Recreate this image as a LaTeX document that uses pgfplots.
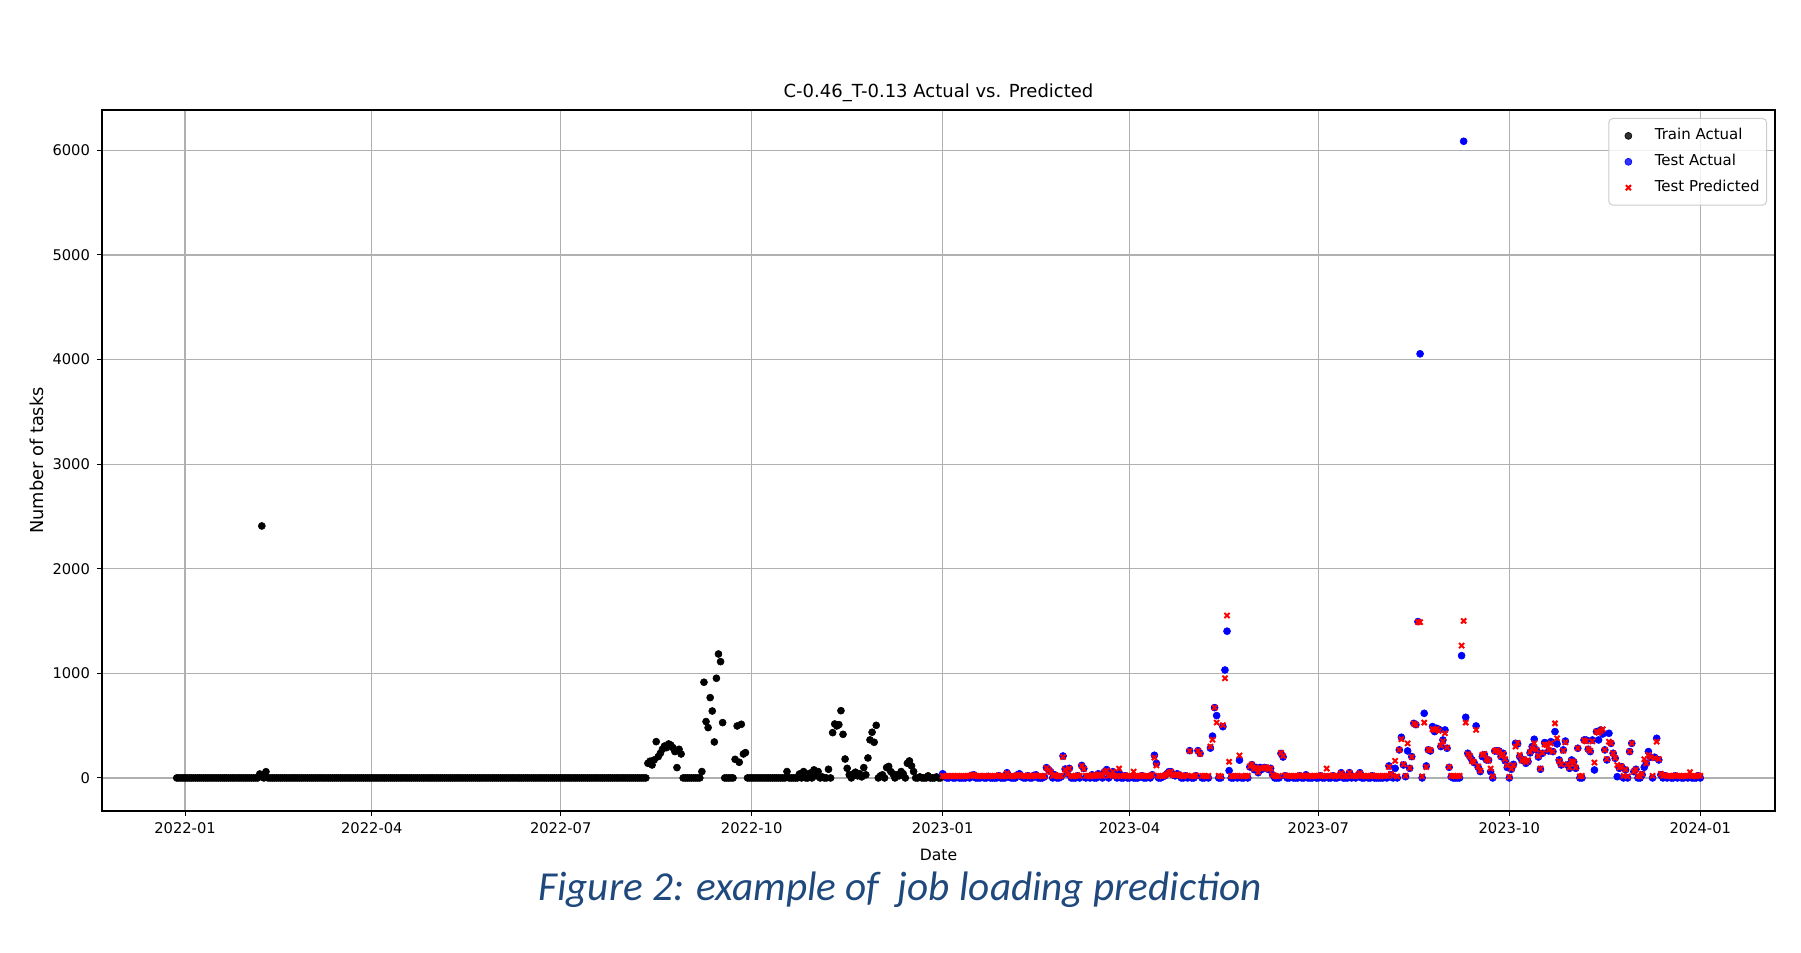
\documentclass[border=0pt]{standalone}
\usepackage{fontspec}
\setmainfont{DejaVu Sans}
\newfontfamily\capfont{Carlito}
\usepackage{pgfplots}
\pgfplotsset{compat=1.18}
\usepackage{pgfplotstable}
\definecolor{capblue}{RGB}{31,73,125}
\definecolor{gridgray}{HTML}{B0B0B0}

\pgfplotstableread[row sep=\\]{
x y\\
-4 0\\ -3 0\\ -2 0\\ -1 0\\ 0 0\\ 1 0\\ 2 0\\ 3 0\\ 4 0\\ 5 0\\
6 0\\ 7 0\\ 8 0\\ 9 0\\ 10 0\\ 11 0\\ 12 0\\ 13 0\\ 14 0\\ 15 0\\
16 0\\ 17 0\\ 18 0\\ 19 0\\ 20 0\\ 21 0\\ 22 0\\ 23 0\\ 24 0\\ 25 0\\
26 0\\ 27 0\\ 28 0\\ 29 0\\ 30 0\\ 31 0\\ 32 0\\ 33 0\\ 34 0\\ 35 0\\
36 38\\ 37 2409\\ 38 0\\ 39 60\\
40 0\\ 41 0\\ 42 0\\ 43 0\\ 44 0\\ 45 0\\ 46 0\\ 47 0\\ 48 0\\ 49 0\\
50 0\\ 51 0\\ 52 0\\ 53 0\\ 54 0\\ 55 0\\ 56 0\\ 57 0\\ 58 0\\ 59 0\\
60 0\\ 61 0\\ 62 0\\ 63 0\\ 64 0\\ 65 0\\ 66 0\\ 67 0\\ 68 0\\ 69 0\\
70 0\\ 71 0\\ 72 0\\ 73 0\\ 74 0\\ 75 0\\ 76 0\\ 77 0\\ 78 0\\ 79 0\\
80 0\\ 81 0\\ 82 0\\ 83 0\\ 84 0\\ 85 0\\ 86 0\\ 87 0\\ 88 0\\ 89 0\\
90 0\\ 91 0\\ 92 0\\ 93 0\\ 94 0\\ 95 0\\ 96 0\\ 97 0\\ 98 0\\ 99 0\\
100 0\\ 101 0\\ 102 0\\ 103 0\\ 104 0\\ 105 0\\ 106 0\\ 107 0\\ 108 0\\ 109 0\\
110 0\\ 111 0\\ 112 0\\ 113 0\\ 114 0\\ 115 0\\ 116 0\\ 117 0\\ 118 0\\ 119 0\\
120 0\\ 121 0\\ 122 0\\ 123 0\\ 124 0\\ 125 0\\ 126 0\\ 127 0\\ 128 0\\ 129 0\\
130 0\\ 131 0\\ 132 0\\ 133 0\\ 134 0\\ 135 0\\ 136 0\\ 137 0\\ 138 0\\ 139 0\\
140 0\\ 141 0\\ 142 0\\ 143 0\\ 144 0\\ 145 0\\ 146 0\\ 147 0\\ 148 0\\ 149 0\\
150 0\\ 151 0\\ 152 0\\ 153 0\\ 154 0\\ 155 0\\ 156 0\\ 157 0\\ 158 0\\ 159 0\\
160 0\\ 161 0\\ 162 0\\ 163 0\\ 164 0\\ 165 0\\ 166 0\\ 167 0\\ 168 0\\ 169 0\\
170 0\\ 171 0\\ 172 0\\ 173 0\\ 174 0\\ 175 0\\ 176 0\\ 177 0\\ 178 0\\ 179 0\\
180 0\\ 181 0\\ 182 0\\ 183 0\\ 184 0\\ 185 0\\ 186 0\\ 187 0\\ 188 0\\ 189 0\\
190 0\\ 191 0\\ 192 0\\ 193 0\\ 194 0\\ 195 0\\ 196 0\\ 197 0\\ 198 0\\ 199 0\\
200 0\\ 201 0\\ 202 0\\ 203 0\\ 204 0\\ 205 0\\ 206 0\\ 207 0\\ 208 0\\ 209 0\\
210 0\\ 211 0\\ 212 0\\ 213 0\\ 214 0\\ 215 0\\ 216 0\\ 217 0\\ 218 0\\ 219 0\\
220 0\\ 221 0\\ 222 0\\ 223 140\\ 224 160\\ 225 124\\ 226 172\\ 227 347\\ 228 204\\ 229 236\\
230 274\\ 231 305\\ 232 290\\ 233 325\\ 234 315\\ 235 290\\ 236 252\\ 237 99\\ 238 274\\ 239 229\\
240 0\\ 241 0\\ 242 0\\ 243 0\\ 244 0\\ 245 0\\ 246 0\\ 247 0\\ 248 0\\ 249 61\\
250 915\\ 251 539\\ 252 481\\ 253 768\\ 254 640\\ 255 344\\ 256 953\\ 257 1185\\ 258 1112\\ 259 529\\
260 0\\ 261 0\\ 262 0\\ 263 0\\ 264 0\\ 265 178\\ 266 497\\ 267 150\\ 268 513\\ 269 229\\
270 242\\ 271 0\\ 272 0\\ 273 0\\ 274 0\\ 275 0\\ 276 0\\ 277 0\\ 278 0\\ 279 0\\
280 0\\ 281 0\\ 282 0\\ 283 0\\ 284 0\\ 285 0\\ 286 0\\ 287 0\\ 288 0\\ 289 0\\
290 61\\ 291 0\\ 292 0\\ 293 0\\ 294 0\\ 295 0\\ 296 38\\ 297 0\\ 298 61\\ 299 0\\
300 0\\ 301 45\\ 302 0\\ 303 77\\ 304 20\\ 305 61\\ 306 0\\ 307 10\\ 308 0\\ 309 0\\
310 83\\ 311 0\\ 312 433\\ 313 516\\ 314 497\\ 315 510\\ 316 643\\ 317 417\\ 318 181\\ 319 92\\
320 30\\ 321 0\\ 322 40\\ 323 55\\ 324 20\\ 325 40\\ 326 10\\ 327 99\\ 328 30\\ 329 191\\
330 364\\ 331 437\\ 332 341\\ 333 503\\ 334 0\\ 335 20\\ 336 30\\ 337 0\\ 338 99\\ 339 110\\
340 61\\ 341 40\\ 342 0\\ 343 30\\ 344 20\\ 345 61\\ 346 40\\ 347 0\\ 348 140\\ 349 163\\
350 115\\ 351 61\\ 352 0\\ 353 0\\ 354 10\\ 355 0\\ 356 0\\ 357 0\\ 358 20\\ 359 0\\
360 0\\ 361 0\\ 362 10\\ 363 0\\ 364 0\\
}\trainTable

\pgfplotstableread[row sep=\\]{
x a p\\
365 40 20\\ 366 20 15\\ 367 0 15\\ 368 0 20\\ 369 10 20\\ 370 0 15\\ 371 0 20\\ 372 5 20\\ 373 0 15\\ 374 0 20\\
375 0 20\\ 376 0 15\\ 377 10 20\\ 378 0 20\\ 379 25 30\\ 380 30 25\\ 381 0 20\\ 382 0 15\\ 383 0 20\\ 384 10 20\\
385 0 20\\ 386 0 15\\ 387 15 20\\ 388 0 20\\ 389 0 15\\ 390 0 20\\ 391 0 20\\ 392 20 25\\ 393 0 20\\ 394 0 15\\
395 0 20\\ 396 50 45\\ 397 10 20\\ 398 0 20\\ 399 0 15\\ 400 0 20\\ 401 30 25\\ 402 40 30\\ 403 10 20\\ 404 0 20\\
405 0 15\\ 406 20 25\\ 407 0 20\\ 408 0 15\\ 409 25 20\\ 410 30 25\\ 411 0 20\\ 412 0 20\\ 413 0 15\\ 414 10 20\\
415 99 95\\ 416 80 75\\ 417 60 55\\ 418 0 20\\ 419 30 30\\ 420 0 20\\ 421 0 15\\ 422 10 20\\ 423 210 200\\ 424 85 80\\
425 40 35\\ 426 92 90\\ 427 0 20\\ 428 0 15\\ 429 0 20\\ 430 20 25\\ 431 0 20\\ 432 120 115\\ 433 90 85\\ 434 0 20\\
435 10 20\\ 436 0 15\\ 437 30 30\\ 438 0 20\\ 439 0 20\\ 440 40 35\\ 441 20 25\\ 442 0 20\\ 443 60 55\\ 444 80 70\\
445 0 20\\ 446 30 30\\ 447 60 60\\ 448 20 20\\ 449 0 15\\ 450 50 90\\ 451 0 20\\ 452 0 20\\ 453 20 25\\ 454 0 15\\
455 0 20\\ 456 10 20\\ 457 0 60\\ 458 0 20\\ 459 0 15\\ 460 10 20\\ 461 20 25\\ 462 0 20\\ 463 0 20\\ 464 10 15\\
465 0 20\\ 466 30 30\\ 467 217 195\\ 468 140 120\\ 469 0 20\\ 470 0 20\\ 471 10 15\\ 472 20 25\\ 473 40 35\\ 474 60 50\\
475 60 60\\ 476 30 30\\ 477 20 25\\ 478 40 35\\ 479 30 30\\ 480 0 20\\ 481 0 15\\ 482 20 25\\ 483 0 20\\ 484 261 257\\
485 0 20\\ 486 0 15\\ 487 20 25\\ 488 261 257\\ 489 235 230\\ 490 0 20\\ 491 0 20\\ 492 10 15\\ 493 0 20\\ 494 285 300\\
495 400 365\\ 496 672 672\\ 497 596 530\\ 498 0 20\\ 499 0 15\\ 500 490 505\\ 501 1032 953\\ 502 1403 1553\\ 503 70 155\\ 504 0 20\\
505 0 15\\ 506 10 20\\ 507 0 20\\ 508 170 215\\ 509 0 20\\ 510 0 15\\ 511 10 20\\ 512 0 20\\ 513 105 110\\ 514 125 130\\
515 80 85\\ 516 100 100\\ 517 50 55\\ 518 100 95\\ 519 84 90\\ 520 100 100\\ 521 96 100\\ 522 80 85\\ 523 92 90\\ 524 30 30\\
525 0 20\\ 526 0 15\\ 527 0 20\\ 528 234 240\\ 529 200 210\\ 530 20 25\\ 531 0 20\\ 532 0 20\\ 533 10 20\\ 534 0 15\\
535 0 20\\ 536 0 20\\ 537 20 25\\ 538 0 20\\ 539 0 15\\ 540 30 25\\ 541 0 20\\ 542 0 20\\ 543 0 15\\ 544 10 20\\
545 0 20\\ 546 0 20\\ 547 20 25\\ 548 0 20\\ 549 0 15\\ 550 10 90\\ 551 0 20\\ 552 0 20\\ 553 20 25\\ 554 0 15\\
555 0 20\\ 556 10 20\\ 557 50 45\\ 558 0 20\\ 559 0 15\\ 560 0 20\\ 561 50 50\\ 562 0 20\\ 563 10 20\\ 564 0 15\\
565 20 25\\ 566 50 45\\ 567 0 20\\ 568 0 20\\ 569 10 15\\ 570 0 20\\ 571 0 20\\ 572 20 25\\ 573 0 15\\ 574 0 20\\
575 0 20\\ 576 0 15\\ 577 0 20\\ 578 5 20\\ 579 0 20\\ 580 115 105\\ 581 30 40\\ 582 0 20\\ 583 92 163\\ 584 0 15\\
585 268 268\\ 586 389 370\\ 587 124 130\\ 588 12 20\\ 589 258 331\\ 590 92 95\\ 591 204 200\\ 592 522 522\\ 593 510 506\\ 594 1495 1490\\
595 4055 1490\\ 596 0 15\\ 597 618 529\\ 598 115 104\\ 599 268 270\\ 600 258 265\\ 601 491 465\\ 602 443 460\\ 603 475 470\\ 604 465 450\\
605 300 310\\ 606 363 350\\ 607 459 427\\ 608 284 290\\ 609 102 105\\ 610 10 20\\ 611 0 20\\ 612 0 15\\ 613 0 20\\ 614 0 20\\
615 1169 1265\\ 616 6087 1501\\ 617 580 529\\ 618 236 230\\ 619 204 210\\ 620 172 160\\ 621 147 150\\ 622 497 459\\ 623 102 110\\ 624 61 70\\
625 204 220\\ 626 220 230\\ 627 172 180\\ 628 172 165\\ 629 60 90\\ 630 0 15\\ 631 258 258\\ 632 258 265\\ 633 258 250\\ 634 204 210\\
635 236 230\\ 636 163 180\\ 637 100 120\\ 638 0 10\\ 639 83 90\\ 640 130 120\\ 641 331 300\\ 642 325 335\\ 643 204 220\\ 644 172 165\\
645 172 180\\ 646 140 150\\ 647 156 170\\ 648 240 250\\ 649 300 280\\ 650 370 331\\ 651 268 270\\ 652 200 210\\ 653 83 90\\ 654 236 240\\
655 338 320\\ 656 331 315\\ 657 258 268\\ 658 347 330\\ 659 252 252\\ 660 443 522\\ 661 325 379\\ 662 172 160\\ 663 124 130\\ 664 268 260\\
665 353 340\\ 666 124 130\\ 667 92 100\\ 668 172 160\\ 669 156 150\\ 670 92 100\\ 671 284 284\\ 672 0 15\\ 673 0 20\\ 674 363 360\\
675 363 350\\ 676 274 280\\ 677 252 260\\ 678 363 350\\ 679 76 147\\ 680 443 440\\ 681 363 433\\ 682 459 450\\ 683 420 465\\ 684 268 268\\
685 172 180\\ 686 427 347\\ 687 331 331\\ 688 236 236\\ 689 188 190\\ 690 12 124\\ 691 92 100\\ 692 108 110\\ 693 0 20\\ 694 76 80\\
695 0 15\\ 696 252 252\\ 697 331 331\\ 698 60 60\\ 699 83 80\\ 700 0 20\\ 701 0 15\\ 702 30 40\\ 703 102 179\\ 704 140 140\\
705 252 220\\ 706 198 200\\ 707 0 20\\ 708 198 190\\ 709 379 347\\ 710 172 180\\ 711 30 40\\ 712 0 20\\ 713 20 25\\ 714 0 20\\
715 10 20\\ 716 0 15\\ 717 0 20\\ 718 20 25\\ 719 0 20\\ 720 10 20\\ 721 0 15\\ 722 0 20\\ 723 10 20\\ 724 0 20\\
725 10 55\\ 726 0 20\\ 727 0 20\\ 728 0 15\\ 729 20 25\\ 730 0 20\\
}\testTable

\begin{document}
\begin{tikzpicture}
\path[use as bounding box] (0,0) rectangle (900.5bp,476.5bp);
\begin{axis}[
  at={(51bp,71bp)}, anchor=south west,
  scale only axis, width=836.5bp, height=350.5bp,
  xmin=-40, xmax=766, ymin=-316, ymax=6386,
  xtick={0,90,181,273,365,455,546,638,730},
  xticklabels={2022-01,2022-04,2022-07,2022-10,2023-01,2023-04,2023-07,2023-10,2024-01},
  ytick={0,1000,2000,3000,4000,5000,6000},
  /pgf/number format/assume math mode=true,
  /pgf/number format/1000 sep={},
  tick pos=left, tick align=outside,
  major tick length=2.5bp,
  tick style={black, line width=0.5bp},
  tick label style={font=\fontsize{7.35bp}{8.6bp}\selectfont},
  grid=major,
  major grid style={gridgray, line width=0.6bp},
  axis line style={black, line width=0.7bp},
  title={C-0.46\_T-0.13 Actual vs. Predicted},
  title style={at={(0.5,1)}, anchor=base, yshift=0.25bp, font=\fontsize{9bp}{10bp}\selectfont},
  xlabel={Date},
  xlabel style={at={(axis description cs:0.5,-0.0628)}, anchor=center, font=\fontsize{7.8bp}{9bp}\selectfont},
  ylabel={Number of tasks},
  ylabel style={at={(axis description cs:-0.0392,0.5)}, anchor=center, font=\fontsize{8.9bp}{10bp}\selectfont},
  legend cell align=left,
  legend image code/.code={\path[draw=none, fill=none] (0bp,-1bp) rectangle (12bp,1bp); \draw[#1] plot coordinates {(6.3bp,0bp)};},
  legend style={
    at={(1,1)}, anchor=north east, xshift=-4bp, yshift=-4bp,
    draw=black!20, fill=white, fill opacity=0.8, text opacity=1, draw opacity=1,
    rounded corners=2bp, line width=0.5bp,
    inner xsep=3.5bp, inner ysep=5.2bp,
    font=\fontsize{7.5bp}{8.8bp}\selectfont,
    row sep=5.95bp,
    nodes={inner sep=0pt, text height=5.5bp, text depth=1.5bp},
    /tikz/every odd column/.append style={column sep=7.5bp},
  },
]
\addplot[only marks, mark=*, mark size=1.75bp, black, mark options={draw=black, fill=black, line width=0.3bp}]
  table[x=x, y=y] {\trainTable};
\addlegendentry{Train Actual}
\addplot[only marks, mark=*, mark size=1.75bp, blue, mark options={draw=blue, fill=blue, line width=0.3bp}]
  table[x=x, y=a] {\testTable};
\addlegendentry{Test Actual}
\addplot[only marks, mark=x, mark size=1.8bp, red, mark options={draw=red, line width=1bp}]
  table[x=x, y=p] {\testTable};
\addlegendentry{Test Predicted}
\end{axis}
\node[font=\capfont\itshape\fontsize{20.6bp}{25bp}\selectfont, text=capblue, anchor=base] at (450bp,26.25bp) {Figure 2: example of\ \ job loading prediction};
\end{tikzpicture}
\end{document}
